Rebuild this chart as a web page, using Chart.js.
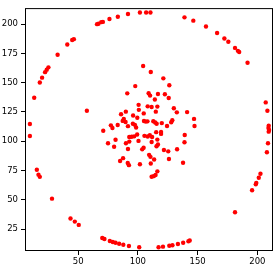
<!DOCTYPE html>
<html>
<head>
  <title>Scatter</title>
  <script src="https://cdn.jsdelivr.net/npm/chart.js@4"></script>
  <style>
    html, body { margin: 0; padding: 0; background: #fff; }
    #wrap { width: 277px; height: 268px; }
  </style>
</head>
<body>
<div id="wrap"><canvas id="scatterChart" width="277" height="268"></canvas></div>
<script>
// outer ring points
var ringX = [9.6, 9.6, 13.2, 17.9, 19.8, 22.3, 23.7, 25.1, 32.8, 40.9, 45.0, 46.4, 65.8, 67.0, 69.3, 70.7,
  76.2, 83.2, 91.7, 101.7, 106.9, 110.5, 139.0, 146.4, 157.0, 166.3, 172.4, 175.7, 181.3, 183.7, 184.8,
  191.8, 207.0, 208.4, 209.5, 209.3, 209.8, 209.5, 208.9, 208.0, 202.6, 201.2, 199.1, 198.7, 195.6,
  181.3, 143.4, 142.3, 137.9, 133.5, 128.9, 126.3, 121.0, 117.3, 101.1, 92.5, 87.8, 84.3, 81.3, 79.0,
  76.5, 72.0, 70.2, 50.5, 47.2, 43.6, 28.1, 17.9, 16.8, 15.4];
var ringY = [114.7, 104.5, 137.1, 150.2, 154.3, 159.0, 161.0, 163.1, 173.9, 182.6, 186.4, 187.2, 200.0, 200.3, 201.7, 201.9,
  204.4, 206.3, 208.6, 210.0, 210.0, 210.0, 205.8, 203.0, 198.0, 192.5, 187.8, 185.0, 179.7, 177.2, 176.2,
  167.0, 133.2, 126.1, 113.3, 111.4, 109.7, 108.2, 98.3, 90.6, 72.3, 68.8, 64.3, 63.2, 58.2,
  39.4, 15.3, 14.6, 13.4, 12.3, 11.2, 10.8, 10.0, 9.5, 9.5, 10.6, 11.7, 12.5, 13.4, 14.0,
  14.8, 16.6, 17.4, 28.6, 31.4, 34.1, 51.0, 69.6, 71.5, 75.7];

// inner cluster points
var coreX = [57.3, 104.4, 110.8, 121.3, 126.3, 97.8, 91.1, 109.0, 110.2, 116.8, 122.6, 125.8, 114.2,
  100.6, 108.2, 111.5, 116.3, 130.1, 132.6, 141.2, 100.8, 104.9, 115.0, 147.0, 147.4, 99.5, 96.0,
  105.1, 106.6, 108.0, 112.9, 114.5, 115.7, 120.0, 124.4, 127.9, 128.8, 139.2, 139.0,
  92.8, 94.8, 96.9, 99.4, 105.5, 108.2, 110.0, 111.9, 115.3, 119.4, 119.4,
  71.0, 77.4, 78.7, 83.1, 85.9, 89.9, 87.3, 88.2, 89.7, 91.7, 95.8, 97.5, 98.5,
  75.0, 81.3, 80.1, 90.0, 92.8, 91.7, 85.1, 87.6, 91.5, 92.5, 100.5, 101.7, 103.6, 104.8,
  111.5, 109.4, 110.5, 113.6, 110.8, 111.5, 113.2, 114.8, 116.3, 115.6, 116.8, 116.3,
  121.8, 125.4, 126.0, 132.8, 137.8];
var coreY = [126.1, 164.3, 159.2, 153.7, 147.8, 147.1, 140.9, 141.0, 139.0, 140.4, 140.2, 136.9, 135.7,
  131.1, 129.8, 129.3, 129.6, 128.2, 124.7, 124.9, 126.8, 123.8, 125.3, 119.1, 113.0, 120.1, 122.0,
  117.3, 116.8, 117.0, 117.1, 116.0, 114.9, 115.5, 113.0, 116.2, 117.9, 105.3, 99.2,
  103.6, 103.9, 104.2, 105.8, 104.6, 104.1, 105.1, 103.6, 107.8, 107.9, 106.3,
  109.0, 113.6, 111.3, 113.9, 123.0, 125.3, 117.4, 119.0, 116.4, 112.9, 115.0, 114.0, 111.8,
  98.3, 101.3, 95.3, 98.3, 99.7, 93.4, 83.1, 85.6, 81.5, 79.6, 100.3, 80.4, 93.1, 94.5,
  99.4, 88.4, 86.7, 84.4, 81.0, 69.7, 70.2, 71.2, 74.3, 95.8, 97.2, 101.4,
  92.5, 91.4, 84.8, 93.2, 81.6];

var xTicks = [50, 100, 150, 200];
var yTicks = [25, 50, 75, 100, 125, 150, 175, 200];

var points = [];
for (var i = 0; i < ringX.length; i++) points.push({ x: ringX[i], y: ringY[i] });
for (var j = 0; j < coreX.length; j++) points.push({ x: coreX[j], y: coreY[j] });

// box around the plot area, like matplotlib spines
var frame = {
  id: 'frame',
  afterDraw: function(chart) {
    var a = chart.chartArea, ctx = chart.ctx;
    ctx.save();
    ctx.strokeStyle = '#000';
    ctx.lineWidth = 1;
    ctx.strokeRect(a.left + 0.5, a.top + 0.5, a.right - a.left - 1, a.bottom - a.top - 1);
    ctx.restore();
  }
};

var tickFont = { family: 'DejaVu Sans', size: 8.5 };

new Chart(document.getElementById('scatterChart'), {
  type: 'scatter',
  data: {
    datasets: [{
      data: points,
      backgroundColor: '#ff0000',
      borderColor: '#ff0000',
      borderWidth: 0,
      pointRadius: 2.2
    }]
  },
  options: {
    responsive: false,
    animation: false,
    layout: { padding: { top: 0, right: 1, left: 0, bottom: 0 } },
    plugins: { legend: { display: false }, tooltip: { enabled: false } },
    scales: {
      x: {
        type: 'linear',
        min: 5.5,
        max: 213.1,
        afterBuildTicks: function(s) { s.ticks = xTicks.map(function(v) { return { value: v }; }); },
        afterFit: function(s) { s.height = 17; },
        border: { display: false },
        grid: { drawOnChartArea: false, drawTicks: true, tickLength: 4, color: '#000' },
        ticks: { color: '#000', font: tickFont, padding: 2, maxRotation: 0 }
      },
      y: {
        type: 'linear',
        min: 6.3,
        max: 213.7,
        afterBuildTicks: function(s) { s.ticks = yTicks.map(function(v) { return { value: v }; }); },
        afterFit: function(s) { s.width = 25; },
        border: { display: false },
        grid: { drawOnChartArea: false, drawTicks: true, tickLength: 4, color: '#000' },
        ticks: { color: '#000', font: tickFont, padding: 3 }
      }
    }
  },
  plugins: [frame]
});
</script>
</body>
</html>
